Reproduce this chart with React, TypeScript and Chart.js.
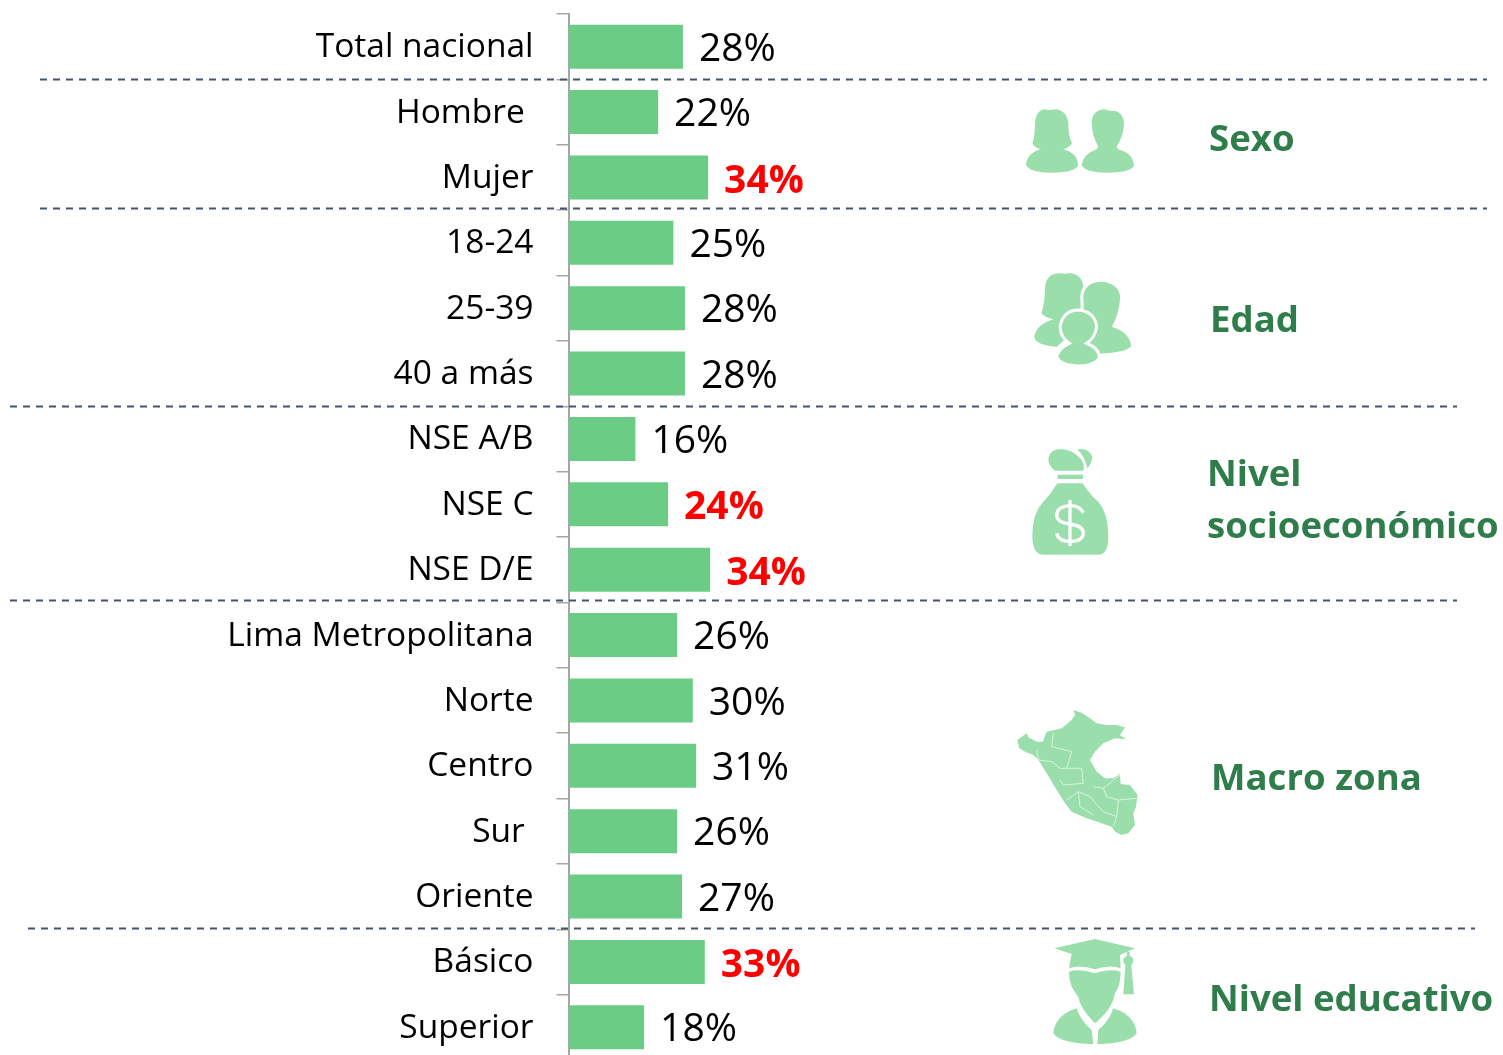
import React, { useEffect, useRef } from "react";
import { Chart, registerables } from "chart.js";

Chart.register(...registerables);

const categories = ["Total nacional", "Hombre ", "Mujer", "18-24", "25-39", "40 a más", "NSE A/B", "NSE C", "NSE D/E", "Lima Metropolitana", "Norte", "Centro", "Sur ", "Oriente", "Básico", "Superior"];
const values = [27.7, 21.7, 33.8, 25.4, 28.2, 28.2, 16.2, 24.1, 34.3, 26.3, 30.1, 30.9, 26.3, 27.5, 33.0, 18.3];
const valueLabels = ["28%", "22%", "34%", "25%", "28%", "28%", "16%", "24%", "34%", "26%", "30%", "31%", "26%", "27%", "33%", "18%"];
const highlighted = [2, 7, 8, 14];

const LABEL_FONT = '"Open Sans"';
const separators = [
  { at: 0.5, from: 40, to: 1487 },
  { at: 2.46, from: 40, to: 1487 },
  { at: 5.5, from: 10, to: 1457 },
  { at: 8.46, from: 10, to: 1457 },
  { at: 13.48, from: 28, to: 1475 },
];
const groupTitles = [
  { lines: ["Sexo"], x: 1209, y: 141 },
  { lines: ["Edad"], x: 1210, y: 322 },
  { lines: ["Nivel", "socioeconómico"], x: 1207, y: 476 },
  { lines: ["Macro zona"], x: 1211, y: 780 },
  { lines: ["Nivel educativo"], x: 1209, y: 1001 },
];

const overlay = {
  id: "overlay",
  afterDatasetsDraw(chart: any) {
    const { ctx, scales } = chart;
    const y = scales.y;
    const x = scales.x;
    ctx.save();
    ctx.textBaseline = "middle";
    ctx.textAlign = "left";
    values.forEach((v, i) => {
      const hot = highlighted.includes(i);
      ctx.font = hot ? `bold 39px ${LABEL_FONT}` : `39px ${LABEL_FONT}`;
      ctx.fillStyle = hot ? "#ff0000" : "#000000";
      ctx.fillText(valueLabels[i], x.getPixelForValue(v) + 16, y.getPixelForValue(i) + (hot ? 4 : 3));
    });
    ctx.strokeStyle = "#44546a";
    ctx.lineWidth = 1.8;
    ctx.setLineDash([7, 6]);
    separators.forEach((s) => {
      const py = Math.round(y.getPixelForValue(s.at)) + 0.5;
      ctx.beginPath();
      ctx.moveTo(s.from, py);
      ctx.lineTo(s.to, py);
      ctx.stroke();
    });
    ctx.setLineDash([]);
    ctx.fillStyle = "#2e7d4b";
    ctx.font = `bold 36.6px ${LABEL_FONT}`;
    groupTitles.forEach((t) => {
      t.lines.forEach((line, k) => ctx.fillText(line, t.x, t.y + k * 52));
    });
    ctx.restore();
  },
};

const ICON = "#9adfab";

function Icons() {
  const svg: React.CSSProperties = { position: "absolute", left: 0, top: 0, pointerEvents: "none" };
  return (
    <svg width={1503} height={1055} style={svg}>
      <g transform="translate(1000,90) scale(0.3333)" fill={ICON}>
        <path d="M105,100 Q108,60 135,58 Q150,62 165,58 Q200,60 205,100 Q204,135 216,160 Q210,172 190,178 Q235,190 234,228 Q220,248 155,248 Q90,248 78,225 Q80,190 122,178 Q100,170 97,158 Q105,140 105,100Z" />
        <path d="M275,95 Q278,60 315,58 Q330,65 345,62 Q372,70 372,100 Q372,135 350,170 L355,178 Q400,190 402,228 Q390,248 322,248 Q255,248 245,225 Q250,192 290,178 L295,170 Q275,135 275,95Z" />
        <path d="M135,590 Q140,550 180,550 Q195,553 210,549 Q248,555 250,590 L250,700 L170,770 Q105,765 103,740 Q108,705 160,688 Q130,680 124,668 Q135,640 135,590Z" />
        <path stroke="#fff" strokeWidth={9} d="M245,620 Q250,572 305,570 Q365,578 365,625 Q362,670 342,708 Q395,725 398,770 Q380,793 300,795 L240,790 L240,700 Q250,660 245,620Z" />
        <path stroke="#fff" strokeWidth={9} d="M180,710 Q190,660 235,660 Q285,665 290,710 Q285,745 260,760 Q300,775 298,805 Q280,828 232,828 Q180,826 170,800 Q175,775 208,760 Q183,745 180,710Z" />
      </g>
      <g transform="translate(1000,440) scale(0.3333)" fill={ICON}>
        <path d="M145,55 Q150,28 180,27 Q220,28 245,60 Q255,75 250,92 L165,92 Q145,80 145,55Z" />
        <path d="M232,28 Q265,22 277,50 Q275,70 262,85 Q255,50 232,28Z" />
        <rect x={173} y={104} width={76} height={13} />
        <path d="M172,130 L248,130 Q270,165 295,185 Q325,220 325,290 Q325,343 295,344 L130,344 Q98,343 97,290 Q97,220 130,185 Q155,160 172,130Z" />
        <path fill="none" stroke="#fff" strokeWidth={10} d="M250,218 Q240,197 210,197 Q170,199 170,227 Q172,248 210,252 Q250,258 250,280 Q250,303 210,305 Q175,303 170,280 M210,180 V318" />
      </g>
      <g transform="translate(1000,700) scale(0.3333)" fill={ICON}>
        <path d="M220,30 L245,38 270,55 290,70 320,75 350,75 375,82 360,105 378,118 345,115 310,130 285,155 270,180 290,215 315,235 340,235 360,222 362,252 390,255 413,285 408,320 400,340 405,375 385,400 365,405 345,395 335,380 300,368 260,355 215,335 195,310 170,270 140,220 115,180 100,165 75,155 58,145 52,120 80,100 85,112 110,125 128,125 140,95 185,85 215,60 225,45Z" />
        <path fill="none" stroke="#e4f6e8" strokeWidth={2.5} d="M160,100 L155,140 215,155 200,205 M110,150 L115,180 155,185 180,205 245,205 250,250 190,255 180,240 M280,260 L310,265 320,290 355,300 410,295 M310,265 L360,225 M200,300 L235,275 270,290 310,335 350,350 M355,300 L350,350 340,380 M235,275 L240,320 280,345" />
        <path d="M163,745 L285,717 405,745 360,765 362,805 Q330,793 285,808 Q240,793 208,805 L208,795 215,762Z" />
        <path d="M381,755 L389,755 389,775 389,795 394,795 402,883 370,883 376,795 381,795Z" />
        <circle cx={385} cy={782} r={15} />
        <path d="M207,815 Q240,805 285,820 Q330,805 362,815 Q362,855 345,880 Q340,925 285,970 Q240,925 235,890 Q207,860 207,815Z" />
        <path d="M230,925 Q240,960 275,990 L280,1033 Q180,1030 160,1000 Q165,945 230,925Z" />
        <path d="M340,925 Q330,960 295,990 L292,1033 Q390,1030 410,1000 Q405,945 340,925Z" />
      </g>
    </svg>
  );
}

export default function App() {
  const ref = useRef<HTMLCanvasElement>(null);
  useEffect(() => {
    const chart = new Chart(ref.current!, {
      type: "bar",
      data: {
        labels: categories,
        datasets: [{ data: values, backgroundColor: "#6acc85", categoryPercentage: 0.673, barPercentage: 1 }],
      },
      plugins: [overlay],
      options: {
        indexAxis: "y",
        animation: false,
        responsive: false,
        layout: { padding: { top: 14, bottom: 15, right: 521.5, left: 0 } },
        plugins: { legend: { display: false }, tooltip: { enabled: false } },
        scales: {
          x: { display: false, min: 0, max: 100 },
          y: {
            afterFit: (s: any) => { s.width = 568.5; s.paddingTop = 0; s.paddingBottom = 0; },
            grid: { offset: true, drawOnChartArea: false, tickLength: 12, color: "#a6a6a6", lineWidth: 1.5 },
            border: { color: "#a6a6a6", width: 2 },
            ticks: { autoSkip: false, padding: 23, color: "#000000", labelOffset: 1, font: { family: "Open Sans", size: 33.5 } },
          },
        },
      },
    } as any);
    return () => chart.destroy();
  }, []);
  return (
    <div style={{ position: "fixed", left: 0, top: 0, width: 1503, height: 1055, overflow: "hidden", background: "#fff" }}>
      <canvas ref={ref} width={1503} height={1075} style={{ display: "block" }} />
      <Icons />
    </div>
  );
}
